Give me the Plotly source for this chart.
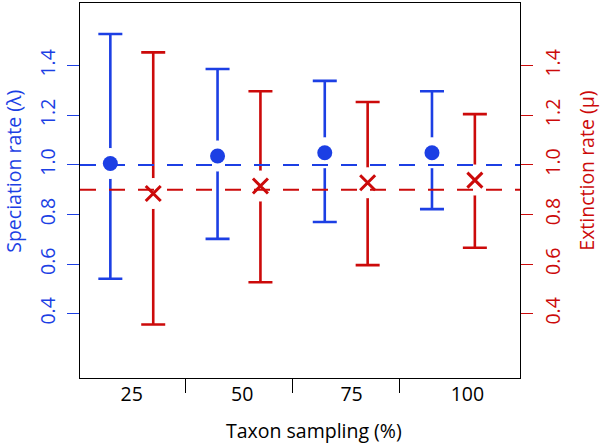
import plotly.graph_objects as go

# ---- data ----
categories = ["25", "50", "75", "100"]
spec_mean = [1.006, 1.036, 1.049, 1.049]
spec_upper = [1.528, 1.387, 1.339, 1.297]
spec_lower = [0.541, 0.702, 0.770, 0.822]
ext_mean = [0.885, 0.915, 0.928, 0.939]
ext_upper = [1.454, 1.297, 1.254, 1.205]
ext_lower = [0.357, 0.527, 0.596, 0.666]
spec_ref = 1.0
ext_ref = 0.9
yticks = [0.4, 0.6, 0.8, 1.0, 1.2, 1.4]

BLUE = "#1c3fe4"
RED = "#cc0a0a"
FONT = "Open Sans"
FS = 19.5

n = len(categories)
idx = list(range(1, n + 1))
xb = [i - 0.2 for i in idx]
xr = [i + 0.2 for i in idx]
label_pos = [1.0, 2.03, 3.05, 4.13]

fig = go.Figure()

# error bars (blue)
fig.add_trace(go.Scatter(
    x=xb, y=spec_mean, mode="markers",
    marker=dict(size=1, color="rgba(0,0,0,0)"),
    error_y=dict(type="data", symmetric=False,
                 array=[u - m for u, m in zip(spec_upper, spec_mean)],
                 arrayminus=[m - l for m, l in zip(spec_mean, spec_lower)],
                 color=BLUE, thickness=2.6, width=12),
    hoverinfo="skip", showlegend=False))
# error bars (red)
fig.add_trace(go.Scatter(
    x=xr, y=ext_mean, mode="markers", yaxis="y2",
    marker=dict(size=1, color="rgba(0,0,0,0)"),
    error_y=dict(type="data", symmetric=False,
                 array=[u - m for u, m in zip(ext_upper, ext_mean)],
                 arrayminus=[m - l for m, l in zip(ext_mean, ext_lower)],
                 color=RED, thickness=2.6, width=12),
    hoverinfo="skip", showlegend=False))
# white gaps around markers
fig.add_trace(go.Scatter(x=xb, y=spec_mean, mode="markers",
                         marker=dict(size=31, color="white"),
                         hoverinfo="skip", showlegend=False))
fig.add_trace(go.Scatter(x=xr, y=ext_mean, mode="markers", yaxis="y2",
                         marker=dict(size=31, color="white"),
                         hoverinfo="skip", showlegend=False))
# markers
fig.add_trace(go.Scatter(x=xb, y=spec_mean, mode="markers",
                         marker=dict(size=15, color=BLUE, symbol="circle"),
                         showlegend=False))
fig.add_trace(go.Scatter(x=xr, y=ext_mean, mode="markers", yaxis="y2",
                         marker=dict(size=15, color=RED, symbol="x-thin-open",
                                     line=dict(color=RED, width=3)),
                         showlegend=False))

# reference dashed lines
fig.add_shape(type="line", xref="paper", x0=0, x1=1, yref="y", y0=spec_ref, y1=spec_ref,
              line=dict(color=BLUE, width=2, dash="16px,13px"), layer="above")
fig.add_shape(type="line", xref="paper", x0=0, x1=1, yref="y2", y0=ext_ref, y1=ext_ref,
              line=dict(color=RED, width=2, dash="16px,13px"), layer="above")

yrange = [0.141, 1.653]
fig.update_layout(
    width=600, height=444,
    margin=dict(l=80, r=80, t=3, b=66, autoexpand=False),
    plot_bgcolor="white", paper_bgcolor="white",
    font=dict(family=FONT, size=FS, color="black"),
    xaxis=dict(range=[0.517, 4.621], tickvals=label_pos, ticktext=categories,
               ticks="outside", ticklen=0, tickfont=dict(size=FS, color="black"),
               ticklabelstandoff=-2, automargin=False,
               minor=dict(tickvals=[1.5, 2.5, 3.5], ticks="outside", ticklen=14,
                          tickcolor="black", tickwidth=1.3),
               showline=True, linecolor="black", linewidth=1.3, mirror=True,
               showgrid=False, zeroline=False),
    yaxis=dict(range=yrange, tickvals=yticks, ticktext=[f"{v:.1f}" for v in yticks],
               ticks="outside", ticklen=12, tickcolor=BLUE, tickwidth=1.3,
               tickangle=-90, tickfont=dict(size=FS, color=BLUE),
               ticklabelstandoff=4, automargin=False,
               showline=True, linecolor="black", linewidth=1.3, mirror=True,
               showgrid=False, zeroline=False),
    yaxis2=dict(range=yrange, overlaying="y", side="right", tickvals=yticks,
                ticktext=[f"{v:.1f}" for v in yticks],
                ticks="outside", ticklen=12, tickcolor=RED, tickwidth=1.3,
                tickangle=-90, tickfont=dict(size=FS, color=RED),
                ticklabelstandoff=4, automargin=False,
                showline=False, showgrid=False, zeroline=False),
    annotations=[
        dict(text="Taxon sampling (%)", xref="paper", yref="paper", x=0.532, y=-0.141,
             xanchor="center", yanchor="middle", showarrow=False,
             font=dict(size=FS, color="black")),
        dict(text="Speciation rate (λ)", xref="paper", yref="paper", x=-0.1505, y=0.552,
             xanchor="center", yanchor="middle", textangle=-90, showarrow=False,
             font=dict(size=FS, color=BLUE)),
        dict(text="Extinction rate (μ)", xref="paper", yref="paper", x=1.1516, y=0.552,
             xanchor="center", yanchor="middle", textangle=-90, showarrow=False,
             font=dict(size=FS, color=RED)),
    ],
)

fig.write_html("out.html", config={"displayModeBar": False},
               post_script="document.body.style.margin='0';document.body.style.padding='0';")
